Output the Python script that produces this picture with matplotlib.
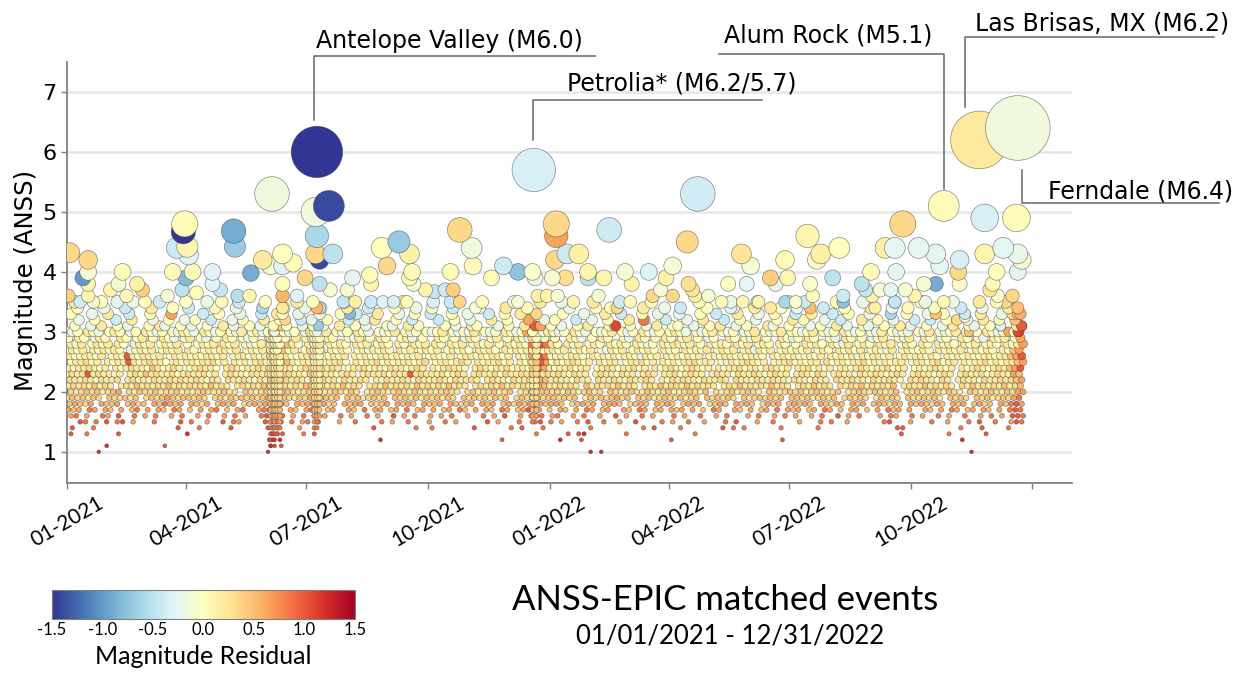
import numpy as np
import matplotlib
matplotlib.use('Agg')
import matplotlib.pyplot as plt
import matplotlib.dates as mdates
from matplotlib.lines import Line2D

start = np.datetime64('2021-01-01')

# residual colour codes used in the grid rows
res_codes = 'abcdefghijklmno'
res_values = [-1.5, -1.2, -0.9, -0.6, -0.4, -0.2, 0.0, 0.2, 0.35, 0.5, 0.65, 0.85, 1.0, 1.2, 1.4]

# small events: one row per magnitude, 8 quarter blocks of 4-day bins, '.' = none
grid_mags = [1.0, 1.1, 1.2, 1.3, 1.4, 1.5, 1.6, 1.7, 1.8, 1.9, 2.0, 2.1, 2.2,
             2.3, 2.4, 2.5, 2.6, 2.7, 2.8, 2.9, 3.0, 3.1, 3.2, 3.3, 3.4, 3.5]
# first day of the bins in each row
grid_shift = [0, 2, 1, 3, 0, 2, 3, 1, 2, 0, 3, 1, 2, 0, 1, 3, 2, 0, 3, 1, 0, 2, 1, 3, 0, 2]
grid_rows = [
    "......n ...............n . . .......n.n . . ..........n",
    ".......n..........m ...............n.m . . . . . .",
    ". ...............nmn .............n .............m .n...m................m ....................m . ........n",
    "m..l.....m............n ...............mnm...l. . ...................l ..m.mn.......l ...l ...................m .....l......m",
    ".m...l...............m. ..l.....m......mml...k. ............m.......l l.......m......l.m...l .......l.........l.m .l.......m.l.l......l ....l..............mm ........l...m....l",
    "..ml.l.m.lm.k...l....m. l..k..m.lk....mmml.l.kl .l...k..l....l.k..l...k ..l.k.....m.k...l..lm.l .k..l.m..l..k..m....l.k ..l..k...l.m...k..l.... k...l.l..k......lm...k. ..l..k...l.m..l..kml",
    "kl.k..lk.m..l.k.l..k.l. .k.l..k.l.k..lmmkl.k.l. l.k..l.k..l.k..m.k.l..k .k.l..k..l.k.m..k.lml.k l..k.l..k..m.k..l.k...l .k..l..k.l...k.l..k.l.k ..k.l..m.k.l...k.lk..l. k..l.k..l..k.l.k.mml",
    "kjk.lk.kj.k.jl.k.kj.lk. j.k.kl.j.kl..kllkj.kj.k lk.jk..kj.l.kk.jk.l.jk. k.jk.lj.k.kj.lk.jkmlk.j .kj.k.lk.jk..kj.lk.jk.k jk.k.j.lk..kj.k.jk.l.kj k.jk.lk.j.kk.j.k.ljk.k. .kj.k.lk.jk.kj.k.lml",
    "jkjik.kjjk.jkij.kjlkjk. kjik.jkjk.ijkjkjkkj.kjk kjkij.kjkk.jijk.kjkj.kj jk.kjijk.kjk.jkikjklkjk kj.ijkjk.jkkj.ijkj.kjkj .jkjk.ijkj.kjkj.ikjk.jk jkj.kjikj.kjk.jkjikj.kj kjikj.kjk.jkij.kjlmk",
    "ijijhji.jiijhj.ijijkjij jiji.ijhjijijijkjijihji kijjij.jijhijij.jijijhj ijhji.jijijhjij.ijijkij jijij.hjijijkij.jijhiji ijhij.jijiji.jhijijij.j jijhijij.ijiji.hjiji.ji ijijh.jiji.jijhijikl",
    "ihijijhijk.ihjiijhiijhi hijihijhi.jihijjijjihij jihijihji.hijihijihjihi hijih.ijhiijhij.hijijjih ihjihijhi.jihijihjihijh hijihj.ihijhijih.jihiji jhijihij.hijihjihij.hij hijihjih.jihijihjikk",
    "hihihjhih.hihjhihihjhih ihihjhih.hihihjhijihihj jhihihjhih.hihjhihihjhi hihjhih.hihihjhihihikjh hihih.jhihihjhih.hihjhi ihjhihih.hihjhihihjhih. hihjhih.ihihjhihihj.hih hjhihih.ihjhihihjhij",
    "ihhihgihhi.hihhgihhihih hihgih.ihhihgihhijihihg ihihhgihhih.hgihhihgihh hihgihhih.hihhgihhihkjh ihhgihh.ihhihgihhih.hgi hihhgihhih.ihhgihhihhgi hhgihh.ihhihhgihhihg.ih ihhgih.hihhgihhihijk",
    "hihhmhihhgh.hihjhihhigh ihhigh.hihhgihhihjiihhg jhihhghih.hihhigihhmhih hhighih.hihhigihhihlkhi hihgihh.hihhgihhfhih.hh ighihh.hihhgihhihghihh. hihgih.hihhfihhihghih.h ihhghih.hihhighihhkj",
    "hghhihgh.hghihhgjhghih. ghihhg.hihghhihghihhghi ihghih.ghhighhgihhghih. hghihhg.hihghhighhghlkhg ghhighh.ghihghhigh.hghi hghihgh.hghhighhghihgh. hhighgh.hhghihghhighh.g hghihgh.hghihghihjkm",
    "ghhigh.hghhmhghihhg.hgh hghhigh.hghfhighhijhghh ihghhig.hghhighghhhghi. ghhghih.hghhigh.hghhmkgh hghihgh.hghhfghhigh.hgh ghhighh.gfhghihgh.ghhig hghh.ighhghhighfhghh.gh hghighh.hghhighghhjk",
    "hgghhgh.ghgmhghhgh.ghgh ghghhgh.ghhghghgijhgghh ihgghgh.hghgghhghghgh.g hggh.ghhghghhgh.hgghmlgh ghghhg.hghghghhgfhgh.hg hghgh.ghghhghghhg.hghgh gghgh.hghghfhghhgh.ghgh hghg.hghghgghhghhjkm",
    "ghgh.hghghg.fghgh.ghgh. hg.ghghhgh.ghgh.gijgh.g ihg.hghg.ghfhghg.hgh.gh gh.ghghg.hghg.hghghmkgh. hgh.ghgh.gfhgh.ghghg.hg g.hghgh.ghgh.ghfhgh.ghg hgh.ghg.hghgh.ghgfh.ghg ghg.hghgh.ghghg.hgjk",
    "hgh.ghgh.hg.fhgh.ghgh.g .ghgh.hgh.gfgh.ghijhg.h ig.hghg.hgh.ghg.hg.hgh. hg.hgh.ghgh.g.hghg.hmlhg g.hgh.ghg.hghg.hgfg.hgh hgh.g.hghg.hgh.ghg.hg.g .hghg.hgfh.ghg.hgh.ghg. hg.hghg.hgh.ghg.hghk",
    "g.hg.fhg..hg.gh.g.hgf.g h.gf.g.hg.gfg..hijg.h.g ig.hg..gfh.g.hg..ghf.g. .hg.g.fhg..gh.g.hgfmkg.h g..hgf.g.hg..gf.hg.g.hg .gh.g.fg..hg.gfh.g..hgf g.hg..gf.hg.g.fgh..gfh. .hg.fg..hg.gf.hgh.gk",
    "gfg.hgf.ghg.fg.hgfg.gfh gf.hgfg.gfh.ghfgijgfg.f igfh.gfg.hgf.gfgh.gfg.g fgh.gfgfh.gfg.hgfgkmgfhg gfg.hgf.gfgh.gfg.hgfg.g hgf.gfgh.gfg.fgh.gfgh.g gfgh.gfg.hgfg.gfh.gfgf. gfh.gfgh.gfg.hgfgkgm",
    ".g..f.h..g.f...g.hf..g. f..g..h.f..g.f..hjg..f. g.f..h..g.f...gf..h.g.. ..g.f..hg...f.g..h.mk.g .f..g.h...gf..g..f.h..g g..f..g.h..f.g...hf..g. ..f.g..h.f..gf..g..h.f. .g..f.h..gf..g.f..hm",
    "..f..g...e..h...f..g..f .g..e...f.g...h..gi..e. f..g...e..f.h...g..e... .e..g..f...h..g...k..f. g...e..f..g...h..f...e. ..f..h...e..g..f...g..h .g...f..e...h..g..f...e ..e..g...f..h..g..j",
    "g...f..h...e...g...k... ..e..g...f...e..hg..f.. .f...g..e...h...f..g..e ...g..f...e..g..h..i... .g...f...h..e...g..f... f...g..e...h...f..g...e ..h...e..g...f...d..g.. .f..g...e..h...f.ij",
    "..g....f...e....h...g.. e....g...f....d...g...f ..f....h...e....g...f.. g...e....f....h...g.... ...f....g...e....h...f. .e....g....f...h....g.. f....e...g....h...f.... ...g....e...f....h.",
    ".h....g.....f....e....g ...f.....e....g.....h.. g.....f....e.....h..... ...e.....g.....f....h.. .f.....h....e.....g.... ....g.....f....e.....h. .e.....g....f.....d.... g.....f....h....i",
]

# swarm days: one column per day, characters follow grid_mags from 1.0 upward
swarm_days = [154, 156, 157, 159, 161, 187, 189, 191, 352, 355]
swarm_cols = [
    ".nmmlkkjjihhihhgihgh",
    "..nmllkjjiihihhihhgghg",
    ".m.mlkkjiihhihhhgghgf",
    "...mllkjjiihhhihhghg",
    "....lkkjjihhihhgh.g",
    "...mlkkjjiihhihgghgfg",
    "....llkjjiihhhhgghhgf",
    "......kjjiihhhihgghg",
    ".....lkjjiihhijhkhlig",
    "......kjjiihhiijhhhg",
]

# larger events read one by one (days after 2021-01-01, magnitude, residual)
big_day = [155, 89, 88, 91, 83, 92, 126, 127, 139, 2,
           16, 12, 16, 16, 16, 20, 1, 10, 33, 42,
           39, 38, 53, 57, 45, 59, 76, 80, 95, 90,
           87, 98, 110, 110, 116, 117, 129, 138, 148, 154,
           163, 163, 163, 163, 163, 174, 171, 180, 189, 198,
           188, 189, 188, 191, 201, 191, 199, 191, 189, 214,
           190, 212, 216, 209, 218, 238, 251, 259, 242, 261,
           229, 230, 259, 239, 247, 257, 262, 271, 278, 286,
           292, 297, 277, 297, 306, 307, 309, 290, 321, 330,
           341, 352, 354, 341, 356, 353, 370, 370, 369, 378,
           387, 410, 477, 469, 510, 517, 543, 394, 394, 406,
           422, 427, 440, 458, 453, 377, 367, 470, 473, 475,
           500, 514, 532, 536, 543, 545, 363, 371, 383, 402,
           411, 416, 426, 443, 449, 458, 485, 495, 502, 511,
           523, 532, 415, 436, 663, 632, 694, 718, 560, 570,
           567, 584, 619, 626, 644, 657, 660, 675, 674, 675,
           694, 708, 719, 722, 719, 703, 700, 698, 579, 608,
           627, 657, 601, 587, 587, 562, 715, 719, 721, 722,
           719, 551, 564, 562, 604, 609, 611, 615, 623, 626,
           634, 636, 641, 648, 649, 663, 657, 673, 679, 704,
           703, 706, 682, 690, 719]
big_mag = [5.3, 4.8, 4.67, 4.42, 4.4, 4.28, 4.68, 4.42, 3.98, 4.32,
           4.2, 3.9, 4.0, 3.8, 3.6, 3.5, 3.6, 3.5, 3.7, 4.0,
           3.8, 3.5, 3.8, 3.7, 3.6, 3.5, 3.6, 4.0, 4.0, 3.9,
           3.7, 3.65, 4.0, 3.8, 3.7, 3.5, 3.6, 3.6, 4.2, 4.1,
           4.3, 4.1, 3.8, 3.6, 3.4, 3.6, 4.15, 3.9, 6.0, 5.1,
           5.0, 4.6, 4.3, 4.2, 4.3, 3.8, 3.7, 3.4, 3.4, 3.3,
           3.1, 3.7, 3.9, 3.5, 3.5, 4.4, 4.5, 4.3, 4.1, 4.0,
           3.95, 3.8, 3.9, 3.5, 3.5, 3.5, 3.8, 3.7, 3.67, 3.7,
           3.7, 3.5, 3.5, 4.7, 4.4, 4.1, 3.4, 4.0, 3.9, 4.1,
           4.0, 4.0, 3.9, 3.5, 3.6, 5.7, 4.8, 4.6, 4.2, 4.3,
           4.3, 4.7, 5.3, 4.5, 4.3, 4.1, 4.2, 4.0, 3.9, 3.9,
           4.0, 3.8, 4.0, 4.1, 3.9, 3.9, 3.9, 3.8, 3.7, 3.6,
           3.8, 3.8, 3.9, 3.8, 3.5, 3.9, 3.6, 3.6, 3.5, 3.6,
           3.4, 3.4, 3.5, 3.6, 3.7, 3.6, 3.6, 3.5, 3.4, 3.5,
           3.5, 3.4, 3.1, 3.2, 5.1, 4.8, 4.9, 4.9, 4.6, 4.3,
           4.2, 4.4, 4.4, 4.4, 4.4, 4.3, 4.1, 4.2, 4.0, 3.8,
           4.3, 4.4, 4.3, 4.2, 4.0, 4.0, 3.8, 3.7, 3.9, 4.0,
           4.0, 3.8, 3.8, 3.6, 3.5, 3.8, 3.6, 3.4, 3.3, 3.1,
           3.0, 3.5, 3.6, 3.4, 3.7, 3.6, 3.4, 3.7, 3.7, 3.5,
           3.7, 3.4, 3.6, 3.8, 3.5, 3.5, 3.3, 3.2, 3.25, 3.6,
           3.5, 3.1, 3.0, 6.2, 6.4]
big_res = [-0.15, 0.05, -1.5, 0.1, -0.4, -0.3, -0.9, -0.7, -0.9, 0.35,
           0.35, -1.0, -0.1, 0.1, 0.1, -0.1, 0.4, -0.4, 0.1, 0.05,
           -0.1, -0.25, 0.15, 0.4, 0.05, 0.05, -0.1, 0.05, 0.05, -0.8,
           -0.5, 0.05, -0.3, -0.3, -0.45, 0.05, -0.55, 0.1, 0.2, -0.1,
           0.0, -0.3, 0.05, 0.55, 0.2, -0.3, 0.05, 0.35, -1.5, -1.4,
           -0.15, -0.6, 0.35, -1.4, -0.5, -0.5, -0.1, -0.45, 0.55, -0.8,
           -0.7, -0.1, -0.25, -0.45, 0.15, 0.0, -0.7, 0.15, 0.35, 0.05,
           0.05, 0.1, 0.05, -0.3, -0.35, 0.05, -0.1, 0.1, -0.45, -0.4,
           0.4, 0.35, -0.35, 0.35, -0.15, 0.05, -0.1, 0.05, 0.05, -0.4,
           -0.75, -0.05, -0.2, -0.1, 0.15, -0.35, 0.35, 0.65, 0.35, -0.4,
           0.15, -0.4, -0.38, 0.35, 0.25, -0.1, 0.05, 0.1, -0.5, 0.1,
           -0.1, 0.1, -0.3, -0.1, 0.15, 0.3, -0.1, 0.3, 0.25, 0.15,
           0.0, -0.25, 0.4, -0.2, -0.6, 0.1, 0.1, -0.1, 0.1, -0.1,
           0.05, 0.35, 0.05, 0.35, -0.1, 0.35, -0.1, 0.05, -0.3, 0.1,
           0.1, 0.2, 1.1, 0.85, 0.03, 0.35, -0.35, 0.05, 0.1, 0.15,
           -0.05, 0.0, 0.15, -0.25, -0.25, -0.25, -0.25, -0.35, 0.35, -0.05,
           0.1, -0.25, -0.2, -0.1, -0.25, 0.0, 0.05, 0.25, -0.5, 0.05,
           -0.25, -0.9, -0.5, -0.4, -0.75, -0.05, 0.35, 0.5, 0.6, 1.0,
           1.1, -0.1, 0.05, 0.5, -0.45, 0.1, 0.15, -0.1, -0.25, -0.45,
           -0.1, 0.05, 0.1, -0.1, -0.2, 0.05, 0.5, 0.35, -0.1, -0.1,
           0.05, -0.3, 0.5, 0.22, -0.15]

# labelled events
ann_text = ['Antelope Valley (M6.0)', 'Petrolia* (M6.2/5.7)', 'Alum Rock (M5.1)',
            'Las Brisas, MX (M6.2)', 'Ferndale (M6.4)']
ann_day = [189, 353, 663, 690, 719]
ann_mag = [6.0, 5.7, 5.1, 6.2, 6.4]

tick_months = ['2021-01-01', '2021-04-01', '2021-07-01', '2021-10-01', '2022-01-01',
               '2022-04-01', '2022-07-01', '2022-10-01', '2023-01-01']
tick_names = ['01-2021', '04-2021', '07-2021', '10-2021', '01-2022',
              '04-2022', '07-2022', '10-2022', '']

# decode grid rows and swarm columns
days, mags, res = [], [], []
for m, shift, row in zip(grid_mags, grid_shift, grid_rows):
    for q, seg in enumerate(row.split()):
        for j, ch in enumerate(seg):
            if ch in res_codes:
                days.append(92 * q + 4 * j + shift)
                mags.append(m)
                res.append(res_values[res_codes.index(ch)])
for d, col in zip(swarm_days, swarm_cols):
    for k, ch in enumerate(col):
        if ch in res_codes:
            days.append(d)
            mags.append(grid_mags[k])
            res.append(res_values[res_codes.index(ch)])
days += big_day
mags += big_mag
res += big_res

days = np.array(days)
mags = np.array(mags)
res = np.array(res)
order = np.argsort(mags, kind='stable')
dates = start + days.astype('timedelta64[D]')

W, H, DPI = 1246, 673, 100
fig = plt.figure(figsize=(W / DPI, H / DPI), dpi=DPI)
ax = fig.add_axes([67 / W, 1 - 483 / H, (1072 - 67) / W, (483 - 62) / H])

# marker radius in px grows with magnitude
r_px = 15 * np.exp(0.58 * (mags - 5.1)) + 0.45
sizes = (2 * r_px * 72 / DPI) ** 2

sc = ax.scatter(dates[order], mags[order], s=sizes[order], c=res[order],
                cmap='RdYlBu_r', vmin=-1.5, vmax=1.5,
                edgecolors=(0.25, 0.25, 0.25, 0.6), linewidths=0.5, zorder=3)

ax.set_xlim(np.datetime64('2021-01-01'), np.datetime64('2023-01-31'))
ax.set_ylim(0.48, 7.5)
ax.set_yticks([1, 2, 3, 4, 5, 6, 7])
ax.yaxis.grid(True, color='#e6e6e6', lw=1.8, zorder=0)
ax.set_axisbelow(True)
for s in ['top', 'right']:
    ax.spines[s].set_visible(False)
for s in ['left', 'bottom']:
    ax.spines[s].set_color('#808080')
    ax.spines[s].set_linewidth(1.3)
ax.tick_params(colors='#808080', length=4, width=1)
ax.tick_params(axis='y', labelcolor='black', labelsize=16)
ax.set_xticks([np.datetime64(d) for d in tick_months])
ax.set_xticklabels(tick_names, rotation=30, fontsize=15, family='Lato', color='black')
ax.set_ylabel('Magnitude (ANSS)', fontsize=17.5)
ax.yaxis.set_label_coords(-0.029, 0.48)

# annotation leaders (offsets in px from the bubble centre)
fig.canvas.draw()
lead = [(-3, 32, 96, 278, -1, 104),
        (-1, 30, 70, 228, 33, 79),
        (0, 17, 152, -225, -220, 163),
        (-14, 33, 103, 235, -4, 109),
        (4, -42, -75, 201, 30, -71)]
for txt, d, m, (dx, y0, y1, x1, tx, ty) in zip(ann_text, ann_day, ann_mag, lead):
    px, py = ax.transData.transform((mdates.date2num(start + np.timedelta64(d, 'D')), m))
    xs = [px + dx, px + dx, px + x1]
    ys = [py + y0, py + y1, py + y1]
    fig.add_artist(Line2D([x / W for x in xs], [y / H for y in ys], color='#666666',
                          lw=1.1, transform=fig.transFigure))
    fig.text((px + tx) / W, (py + ty) / H, txt, fontsize=17, va='baseline', ha='left')

# colour bar
cax = fig.add_axes([52 / W, 1 - 619 / H, 303 / W, 29 / H])
cb = fig.colorbar(sc, cax=cax, orientation='horizontal')
cb.set_ticks([-1.5, -1.0, -0.5, 0.0, 0.5, 1.0, 1.5])
cb.set_ticklabels(['-1.5', '-1.0', '-0.5', '0.0', '0.5', '1.0', '1.5'])
cb.outline.set_edgecolor('#808080')
cax.tick_params(length=0, labelsize=12, pad=2)
for t in cax.get_xticklabels():
    t.set_family('Lato')
cb.set_label('Magnitude Residual', fontsize=18, family='Lato', labelpad=5)

fig.text(725 / W, 1 - 600 / H, 'ANSS-EPIC matched events', fontsize=25,
         family='Lato', ha='center', va='center')
fig.text(730 / W, 1 - 636 / H, '01/01/2021 - 12/31/2022', fontsize=18.5,
         family='Lato', ha='center', va='center')

fig.savefig('out.png', dpi=DPI)
